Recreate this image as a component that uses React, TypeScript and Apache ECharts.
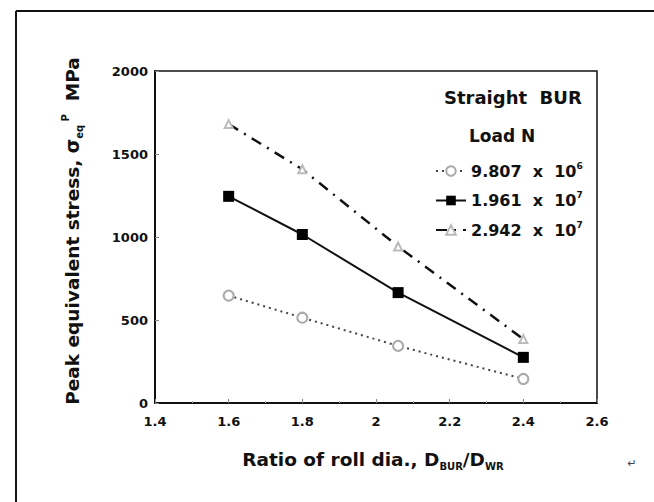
import React, { useEffect, useRef } from "react";
import * as echarts from "echarts";

const ratios = [1.6, 1.8, 2.06, 2.4];
const load1Stress = [647, 514, 344, 145];
const load2Stress = [1245, 1015, 665, 275];
const load3Stress = [1680, 1408, 943, 385];
const xTicks = { min: 1.4, max: 2.6, interval: 0.2 };
const yTicks = { min: 0, max: 2000, interval: 500 };
const legendNames = ["9.807 x 10^6", "1.961 x 10^7", "2.942 x 10^7"];

const FONT = "DejaVu Sans";

export default function App() {
  const ref = useRef<HTMLDivElement>(null);
  useEffect(() => {
    document.body.style.margin = "0";
    const chart = echarts.init(ref.current!, null, { renderer: "svg" });
    const pair = (ys: number[]) => ratios.map((x, i) => [x, ys[i]]);
    const legendFmt = (name: string) => {
      const [base, exp] = name.split("^");
      return `{b|${base.replace(/ x /, "  x  ")}}{sup|${exp}}`;
    };
    chart.setOption({
      animation: false,
      backgroundColor: "#fff",
      grid: { left: 155, top: 71, right: 57, bottom: 99, show: true, borderColor: "#111", borderWidth: 1.5 },
      xAxis: {
        type: "value",
        ...xTicks,
        axisLine: { show: true, lineStyle: { color: "#111", width: 2 } },
        axisTick: { show: true, inside: true, length: 4, lineStyle: { color: "#888" } },
        minorTick: { show: true, splitNumber: 2, length: 2, lineStyle: { color: "#aaa" } },
        splitLine: { show: false },
        axisLabel: {
          color: "#111", fontFamily: FONT, fontWeight: "bold", fontSize: 13, margin: 12,
          formatter: (v: number) => String(Math.round(v * 10) / 10),
        },
      },
      yAxis: {
        type: "value",
        ...yTicks,
        axisLine: { show: true, lineStyle: { color: "#111", width: 2 } },
        axisTick: { show: true, inside: true, length: 4, lineStyle: { color: "#888" } },
        splitLine: { show: false },
        axisLabel: {
          color: "#111", fontFamily: FONT, fontWeight: "bold", fontSize: 13, margin: 7,
          formatter: (v: number) => String(v),
        },
      },
      legend: {
        orient: "vertical",
        left: 430,
        top: 156,
        itemWidth: 30,
        itemHeight: 12,
        itemGap: 11.5,
        formatter: legendFmt,
        textStyle: {
          fontFamily: FONT,
          rich: {
            b: { fontFamily: FONT, fontWeight: "bold", fontSize: 16, color: "#111", lineHeight: 20 },
            sup: { fontFamily: FONT, fontWeight: "bold", fontSize: 9, color: "#111", lineHeight: 10, verticalAlign: "top" },
          },
        },
      },
      series: [
        {
          name: legendNames[0],
          type: "line",
          data: pair(load1Stress),
          symbol: "emptyCircle",
          symbolSize: 10,
          itemStyle: { color: "#aaa", borderColor: "#aaa", borderWidth: 1 },
          lineStyle: { color: "#444", width: 2, type: [2, 4] },
        },
        {
          name: legendNames[1],
          type: "line",
          data: pair(load2Stress),
          symbol: "rect",
          symbolSize: 11,
          itemStyle: { color: "#000" },
          lineStyle: { color: "#111", width: 2 },
        },
        {
          name: legendNames[2],
          type: "line",
          data: pair(load3Stress),
          symbol: "emptyTriangle",
          symbolSize: 8,
          itemStyle: { color: "#bbb", borderColor: "#bbb", borderWidth: 1 },
          lineStyle: { color: "#111", width: 2.5, type: [11, 7, 2, 7] },
        },
      ],
      graphic: [
        { type: "line", shape: { x1: 16, y1: 11, x2: 16, y2: 502 }, style: { stroke: "#111", lineWidth: 2 } },
        { type: "line", shape: { x1: 16, y1: 11, x2: 654, y2: 11 }, style: { stroke: "#111", lineWidth: 2 } },
        {
          type: "text",
          left: 444,
          top: 88,
          style: { text: "Straight  BUR", fontFamily: FONT, fontWeight: "bold", fontSize: 18, fill: "#111" },
        },
        {
          type: "text",
          left: 469,
          top: 127,
          style: { text: "Load N", fontFamily: FONT, fontWeight: "bold", fontSize: 17, fill: "#111" },
        },
        {
          type: "text",
          x: 72,
          y: 231,
          rotation: Math.PI / 2,
          style: {
            text: "{m|Peak equivalent stress, σ}{sub|eq}{sup| P}{m|  MPa}",
            align: "center",
            verticalAlign: "middle",
            rich: {
              m: { fontFamily: FONT, fontWeight: "bold", fontSize: 18.5, fill: "#111", lineHeight: 24, verticalAlign: "middle" },
              sub: { fontFamily: FONT, fontWeight: "bold", fontSize: 10, fill: "#111", lineHeight: 11, verticalAlign: "bottom" },
              sup: { fontFamily: FONT, fontWeight: "bold", fontSize: 10, fill: "#111", lineHeight: 11, verticalAlign: "top" },
            },
          },
        },
        {
          type: "text",
          x: 373,
          y: 459,
          style: {
            text: "{m|Ratio of roll dia., D}{sub|BUR}{m|/D}{sub|WR}",
            align: "center",
            verticalAlign: "middle",
            rich: {
              m: { fontFamily: FONT, fontWeight: "bold", fontSize: 18.5, fill: "#111", lineHeight: 24, verticalAlign: "middle" },
              sub: { fontFamily: FONT, fontWeight: "bold", fontSize: 10, fill: "#111", lineHeight: 11, verticalAlign: "bottom" },
            },
          },
        },
        {
          type: "text",
          x: 632,
          y: 463,
          style: { text: "↵", align: "center", verticalAlign: "middle", fontFamily: "DejaVu Sans", fontSize: 11, fill: "#444" },
        },
      ],
    });
    return () => chart.dispose();
  }, []);
  return <div ref={ref} style={{ width: 654, height: 502 }} />;
}
